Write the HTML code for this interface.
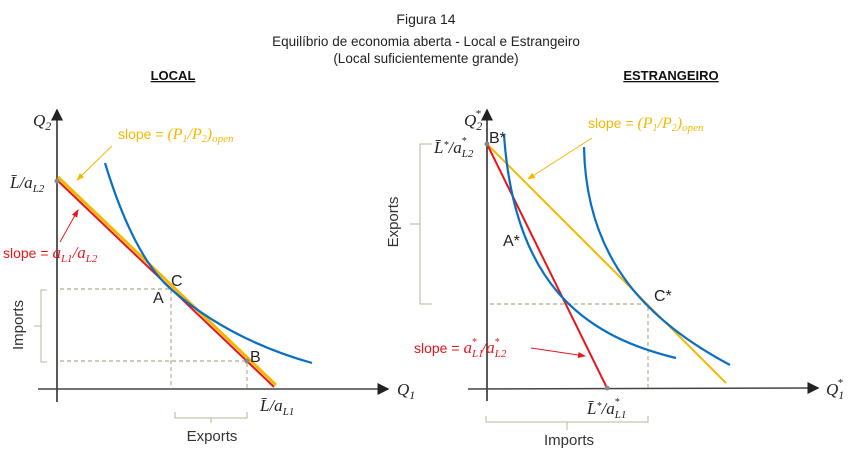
<!DOCTYPE html>
<html><head><meta charset="utf-8"><style>
body{margin:0;background:#fff;width:852px;height:459px;overflow:hidden}
svg text{font-family:"Liberation Sans",sans-serif}
.m{font-family:"Liberation Serif",serif;font-style:italic}
</style></head><body>
<svg id="fig" width="852" height="459" viewBox="0 0 852 459" xmlns="http://www.w3.org/2000/svg">
<defs>
<marker id="ah" markerWidth="8" markerHeight="8" refX="7" refY="4" orient="auto"><path d="M0,0 L8,4 L0,8 z" fill="#222"/></marker>
<marker id="ay" markerWidth="8" markerHeight="8" refX="7" refY="4" orient="auto"><path d="M0,1 L8,4 L0,7 z" fill="#f5b800"/></marker>
<marker id="ar" markerWidth="8" markerHeight="8" refX="7" refY="4" orient="auto"><path d="M0,1 L8,4 L0,7 z" fill="#e8161c"/></marker>
</defs>
<text x="426" y="24" font-size="14" text-anchor="middle" fill="#222">Figura 14</text>
<text x="426" y="46" font-size="13.5" text-anchor="middle" fill="#222">Equilíbrio de economia aberta - Local e Estrangeiro</text>
<text x="426" y="63" font-size="13.5" text-anchor="middle" fill="#222">(Local suficientemente grande)</text>
<text x="173" y="80" font-size="13" font-weight="bold" text-anchor="middle" text-decoration="underline" fill="#111">LOCAL</text>
<text x="671" y="80" font-size="13" font-weight="bold" text-anchor="middle" text-decoration="underline" fill="#111">ESTRANGEIRO</text>

<!-- LOCAL -->
<g>
<line x1="57" y1="402" x2="57" y2="110" stroke="#222" stroke-width="1.5" marker-end="url(#ah)"/>
<line x1="38" y1="389" x2="388" y2="389" stroke="#444" stroke-width="1.5" marker-end="url(#ah)"/>
<g stroke="#9a9670" stroke-dasharray="4,3" stroke-width="0.9" fill="none">
<polyline points="60,289 171,289 171,389"/><polyline points="60,361 247,361 247,389"/></g>
<line x1="58" y1="177" x2="276" y2="385" stroke="#f5b800" stroke-width="3"/>
<line x1="57" y1="180" x2="274" y2="387" stroke="#e8161c" stroke-width="2"/>
<path d="M105,163 Q134,258 172,290 Q230,340 312,363" fill="none" stroke="#0a6fc2" stroke-width="2.2"/>
<circle cx="57" cy="181" r="2.5" fill="#888"/><circle cx="247" cy="361" r="2.5" fill="#888"/>
<text class="m" x="33" y="126" font-size="17" fill="#222">Q<tspan font-size="12" dy="4">2</tspan></text>
<text class="m" x="10" y="188" font-size="17" fill="#222">L̄/a<tspan font-size="11" dy="4">L2</tspan></text>
<text class="m" x="397" y="395" font-size="17" fill="#222">Q<tspan font-size="12" dy="4">1</tspan></text>
<text class="m" x="260" y="411" font-size="17" fill="#222">L̄/a<tspan font-size="11" dy="4">L1</tspan></text>
<text x="118" y="139" font-size="14" fill="#f5b800">slope = <tspan class="m" font-size="16">(P<tspan font-size="10" dy="3">1</tspan><tspan dy="-3">/P</tspan><tspan font-size="10" dy="3">2</tspan><tspan dy="-3">)</tspan><tspan font-size="11" dy="3">open</tspan></tspan></text>
<line x1="112" y1="146" x2="77" y2="180" stroke="#f5b800" stroke-width="1" marker-end="url(#ay)"/>
<text x="3" y="258" font-size="14" fill="#e8161c">slope = <tspan class="m" font-size="17">a<tspan font-size="11" dy="4">L1</tspan><tspan dy="-4">/a</tspan><tspan font-size="11" dy="4">L2</tspan></tspan></text>
<line x1="60" y1="242" x2="78" y2="210" stroke="#e8161c" stroke-width="1" marker-end="url(#ar)"/>
<text x="171" y="286" font-size="16" fill="#222">C</text>
<text x="153" y="303" font-size="16" fill="#222">A</text>
<text x="250" y="362" font-size="16" fill="#222">B</text>
<path d="M47,290 H41 V362 H47 M41,326 H34" fill="none" stroke="#b8b49a" stroke-width="1"/>
<text transform="translate(23,325) rotate(-90)" font-size="15" text-anchor="middle" fill="#333">Imports</text>
<path d="M175,412 V418 H247 V412 M211,418 V423" fill="none" stroke="#b8b49a" stroke-width="1"/>
<text x="212" y="441" font-size="15" text-anchor="middle" fill="#333">Exports</text>
</g>

<!-- FOREIGN -->
<g>
<line x1="487" y1="401" x2="487" y2="110" stroke="#222" stroke-width="1.5" marker-end="url(#ah)"/>
<line x1="468" y1="389" x2="818" y2="388" stroke="#444" stroke-width="1.5" marker-end="url(#ah)"/>
<polyline points="490,304 648,304 648,389" fill="none" stroke="#9a9670" stroke-dasharray="4,3" stroke-width="0.9"/>
<line x1="487" y1="144" x2="726" y2="383" stroke="#f5b800" stroke-width="2"/>
<line x1="487" y1="144" x2="607" y2="388" stroke="#e8161c" stroke-width="2"/>
<path d="M504,135 C514,280 580,335 676,358" fill="none" stroke="#0a6fc2" stroke-width="2.2"/>
<path d="M584,147 C586,262 650,322 730,365" fill="none" stroke="#0a6fc2" stroke-width="2.2"/>
<circle cx="487" cy="144" r="2.5" fill="#888"/><circle cx="607" cy="388" r="2.5" fill="#888"/>
<text class="m" x="464" y="126" font-size="17" fill="#222">Q<tspan font-size="12" dy="4">2</tspan><tspan font-size="11" dx="-7" dy="-13">*</tspan></text>
<text class="m" x="434" y="153" font-size="17" fill="#222">L̄<tspan font-size="10" dy="-5">*</tspan><tspan dy="5">/a</tspan><tspan font-size="11" dy="4">L2</tspan><tspan font-size="10" dx="-12" dy="-13">*</tspan></text>
<text class="m" x="826" y="395" font-size="17" fill="#222">Q<tspan font-size="12" dy="4">1</tspan><tspan font-size="11" dx="-7" dy="-13">*</tspan></text>
<text class="m" x="587" y="414" font-size="17" fill="#222">L̄<tspan font-size="10" dy="-5">*</tspan><tspan dy="5">/a</tspan><tspan font-size="11" dy="4">L1</tspan><tspan font-size="10" dx="-12" dy="-13">*</tspan></text>
<text x="588" y="128" font-size="14" fill="#f5b800">slope = <tspan class="m" font-size="16">(P<tspan font-size="10" dy="3">1</tspan><tspan dy="-3">/P</tspan><tspan font-size="10" dy="3">2</tspan><tspan dy="-3">)</tspan><tspan font-size="11" dy="3">open</tspan></tspan></text>
<line x1="592" y1="138" x2="528" y2="179" stroke="#f5b800" stroke-width="1" marker-end="url(#ay)"/>
<text x="414" y="353" font-size="14" fill="#e8161c">slope = <tspan class="m" font-size="17">a<tspan font-size="11" dy="4">L1</tspan><tspan font-size="10" dx="-12" dy="-12">*</tspan><tspan dx="5" dy="8">/a</tspan><tspan font-size="11" dy="4">L2</tspan><tspan font-size="10" dx="-12" dy="-12">*</tspan></tspan></text>
<line x1="531" y1="348" x2="585" y2="356" stroke="#e8161c" stroke-width="1" marker-end="url(#ar)"/>
<text x="489" y="143" font-size="16" fill="#222">B*</text>
<text x="503" y="246" font-size="16" fill="#222">A*</text>
<text x="654" y="301" font-size="16" fill="#222">C*</text>
<path d="M432,144 H420 V304 H432 M420,224 H410" fill="none" stroke="#b8b49a" stroke-width="1"/>
<text transform="translate(398,222) rotate(-90)" font-size="15" text-anchor="middle" fill="#333">Exports</text>
<path d="M486,416 V422 H648 V416 M567,422 V430" fill="none" stroke="#b8b49a" stroke-width="1"/>
<text x="569" y="445" font-size="15" text-anchor="middle" fill="#333">Imports</text>
</g>
</svg>
</body></html>
